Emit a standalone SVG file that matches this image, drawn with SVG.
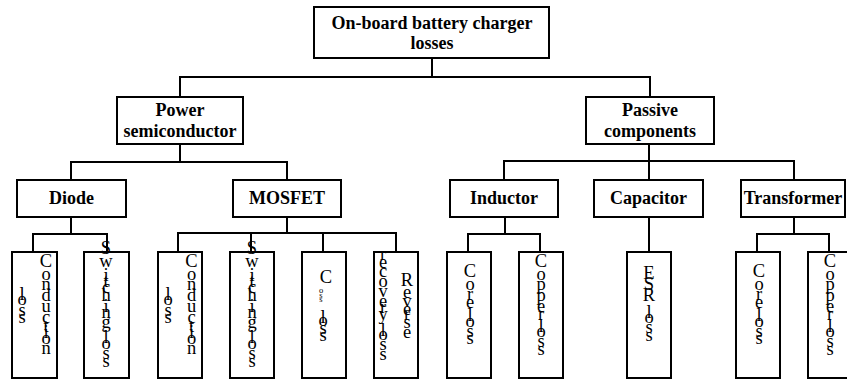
<svg xmlns="http://www.w3.org/2000/svg" width="847" height="381" viewBox="0 0 847 381">
<style>
.box{fill:#fff;stroke:#000;stroke-width:2}
.ln{fill:none;stroke:#000;stroke-width:2;stroke-linecap:square}
.hd{font-family:"Liberation Serif",serif;font-weight:bold;font-size:18px;text-anchor:middle;fill:#000}
.lf{font-family:"Liberation Serif",serif;font-size:18.5px;text-anchor:middle;fill:#000}
.sub{font-size:8.5px}
</style>
<rect width="847" height="381" fill="#fff"/>
<g id="connectors" class="ln">
<path d="M432 58V77M180 77H650M180 77V97M650 77V97"/>
<path d="M180 144V162M71 162H287M71 162V180M287 162V180"/>
<path d="M649 144V161M504 161H794M504 161V180M649 161V180M794 161V180"/>
<path d="M71 217V234M33 234H107M33 234V252M107 234V252"/>
<path d="M287 216V233M178 233H396M178 233V252M251 233V252M323 233V252M396 233V252"/>
<path d="M505 217V234M468 234H540M468 234V252M540 234V252"/>
<path d="M649 217V252"/>
<path d="M794 217V234M757 234H829M757 234V252M829 234V252"/>
</g>
<g id="root"><rect class="box" x="314" y="7" width="235" height="51"/><text class="hd" x="432" y="29">On-board battery charger</text><text class="hd" x="432" y="49">losses</text></g>
<g id="power"><rect class="box" x="117" y="97" width="126" height="47"/><text class="hd" x="180" y="116">Power</text><text class="hd" x="180" y="137">semiconductor</text></g>
<g id="passive"><rect class="box" x="586" y="97" width="128" height="47"/><text class="hd" x="650" y="116">Passive</text><text class="hd" x="650" y="137">components</text></g>
<g id="diode"><rect class="box" x="17" y="180" width="109" height="37"/><text class="hd" x="71.5" y="204">Diode</text></g>
<g id="mosfet"><rect class="box" x="233" y="180" width="108" height="37"/><text class="hd" x="287" y="204">MOSFET</text></g>
<g id="inductor"><rect class="box" x="450" y="180" width="108" height="37"/><text class="hd" x="504" y="204">Inductor</text></g>
<g id="capacitor"><rect class="box" x="594" y="180" width="109" height="37"/><text class="hd" x="648.5" y="204">Capacitor</text></g>
<g id="transformer"><rect class="box" x="741" y="180" width="104" height="37"/><text class="hd" x="793" y="204">Transformer</text></g>

<g id="diode-conduction"><rect class="box" x="12" y="252" width="45" height="126"/>
<text class="lf" x="46 46 46 46 46 46 46 46 46 46 34 22 22 22 22" y="267 280 290 301 312 323 332 338 344 354 290 300 305 316 323">Conduction loss</text></g>
<g id="diode-switching"><rect class="box" x="84" y="252" width="45" height="126"/>
<text class="lf" x="106 106 106 106 106 106 106 106 106 106 106 106 106 106" y="254 267 281 287 293 301 312 318 328 336 343 349 359 367">Switching loss</text></g>
<g id="mosfet-conduction"><rect class="box" x="158" y="252" width="44" height="126"/>
<text class="lf" x="191.5 191.5 191.5 191.5 191.5 191.5 191.5 191.5 191.5 191.5 180 168 168 168 168" y="267 280 290 301 312 323 332 338 344 354 290 300 305 316 323">Conduction loss</text></g>
<g id="mosfet-switching"><rect class="box" x="230" y="252" width="44" height="126"/>
<text class="lf" x="252 252 252 252 252 252 252 252 252 252 252 252 252 252" y="254 267 281 287 293 301 312 318 328 336 343 349 359 367">Switching loss</text></g>
<g id="mosfet-coss"><rect class="box" x="302" y="252" width="44" height="126"/>
<text class="lf"><tspan x="326" y="283">C</tspan><tspan class="sub" x="321 321 321" y="293 297.5 302">oss</tspan><tspan x="323 323 323 323 323" y="323 323 326 334 341"> loss</tspan></text></g>
<g id="mosfet-reverse"><rect class="box" x="374" y="252" width="44" height="126"/>
<text class="lf" x="407 407 407 407 407 407 407 395 383 383 383 383 383 383 383 383 383 383 383 383 383" y="286 298 307 315 320 328 338 300 260 268 277 287 297 307 313 320 328 336 340 350 360">Reverse recovery loss</text></g>
<g id="inductor-core"><rect class="box" x="447" y="252" width="44" height="126"/>
<text class="lf" x="470 470 470 470 470 470 470 470 470" y="277 290 300 308 314 321 327 337 344">Core loss</text></g>
<g id="inductor-copper"><rect class="box" x="519" y="252" width="44" height="126"/>
<text class="lf" x="541 541 541 541 541 541 541 541 541 541 541" y="267 280 290 301 312 320 326 332 337 347 355">Copper loss</text></g>
<g id="capacitor-esr"><rect class="box" x="627" y="252" width="44" height="126"/>
<text class="lf" x="649 649 649 649 649 649 649 649" y="279 290 301 310 318 323 333 341">ESR loss</text></g>
<g id="transformer-core"><rect class="box" x="736" y="252" width="44" height="126"/>
<text class="lf" x="759 759 759 759 759 759 759 759 759" y="277 290 300 308 314 321 327 337 344">Core loss</text></g>
<g id="transformer-copper"><rect class="box" x="808" y="252" width="45" height="126"/>
<text class="lf" x="830 830 830 830 830 830 830 830 830 830 830" y="267 280 290 301 312 320 326 332 337 347 355">Copper loss</text></g>
</svg>
